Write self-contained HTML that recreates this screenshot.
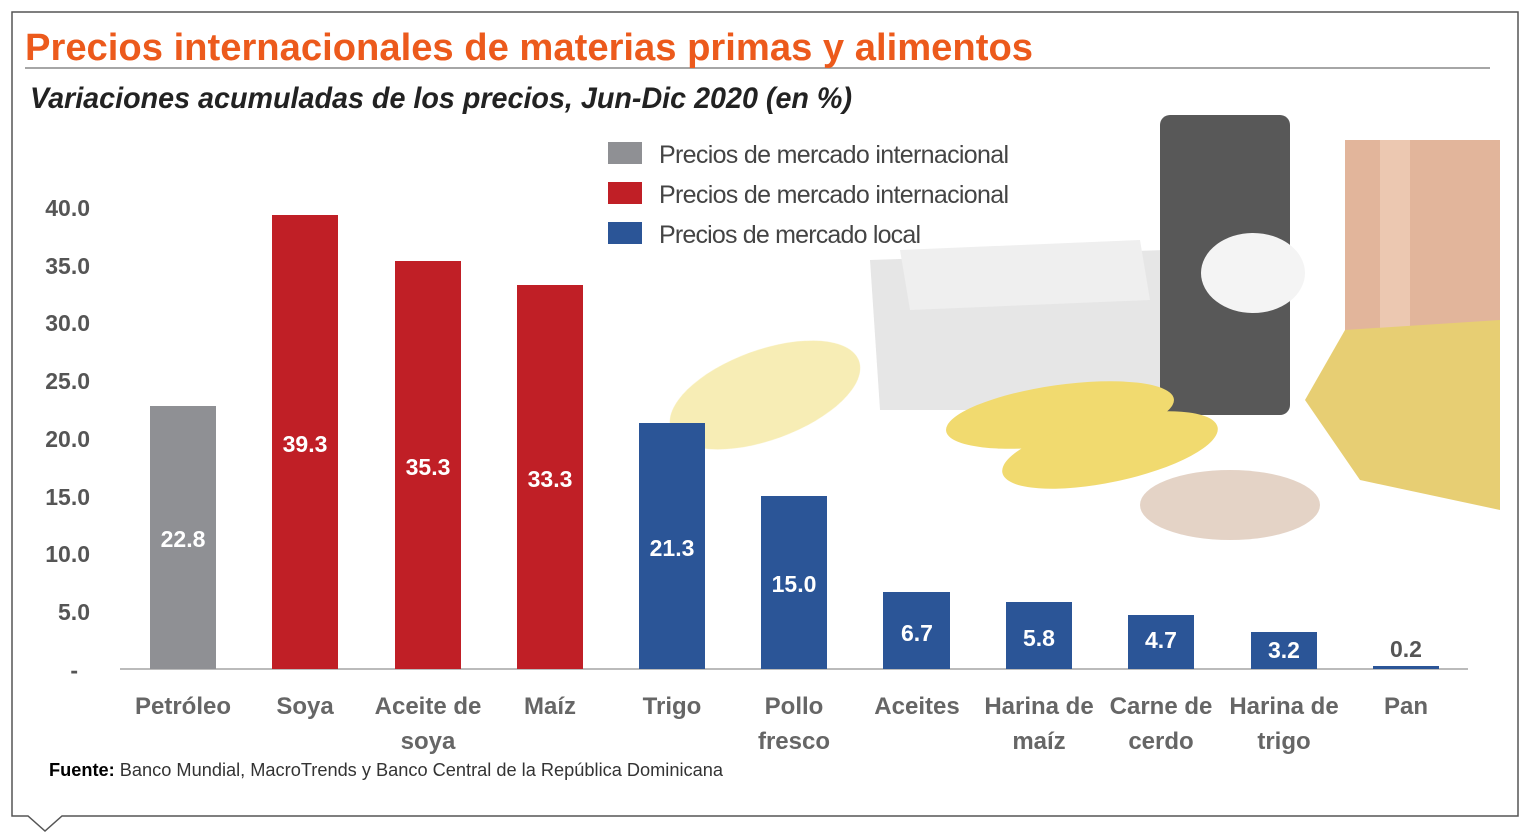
<!DOCTYPE html>
<html><head><meta charset="utf-8"><style>
body{margin:0;background:#fff;width:1536px;height:834px;overflow:hidden;position:relative;font-family:"Liberation Sans",sans-serif}
.t{position:absolute;white-space:nowrap}
</style></head><body>
<svg width="1536" height="834" style="position:absolute;left:0;top:0">
<path d="M12,12 H1518 V816 H62 L45,831 L28,816 H12 Z" fill="none" stroke="#555" stroke-width="1.5"/>
<line x1="25" y1="68" x2="1490" y2="68" stroke="#888" stroke-width="1.5"/>
<!-- illustration -->
<g opacity="0.85">
<ellipse cx="765" cy="395" rx="100" ry="45" fill="#f6eaa8" transform="rotate(-20 765 395)"/>
<polygon points="870,260 1165,250 1170,410 880,410" fill="#e2e2e2"/>
<polygon points="900,250 1140,240 1150,300 910,310" fill="#ececec"/>
<rect x="1345" y="140" width="155" height="200" fill="#dda88a"/>
<rect x="1380" y="140" width="30" height="200" fill="#e9bfa3"/>
<rect x="1160" y="115" width="130" height="300" rx="10" fill="#3a3a3a"/>
<ellipse cx="1253" cy="273" rx="52" ry="40" fill="#f2f2f2"/>
<polygon points="1305,400 1345,330 1500,320 1500,510 1360,480" fill="#e3c65a"/>
<ellipse cx="1060" cy="415" rx="115" ry="30" fill="#efd455" transform="rotate(-8 1060 415)"/>
<ellipse cx="1110" cy="450" rx="110" ry="32" fill="#efd455" transform="rotate(-12 1110 450)"/>
<ellipse cx="1230" cy="505" rx="90" ry="35" fill="#c9a890" opacity="0.6"/>
</g>
<!-- axis -->
<line x1="120" y1="669" x2="1468" y2="669" stroke="#bbb" stroke-width="2"/>
<g>
<rect x="150" y="406" width="66" height="263" fill="#8f9094"/>
<rect x="272" y="215" width="66" height="454" fill="#c01f26"/>
<rect x="395" y="261" width="66" height="408" fill="#c01f26"/>
<rect x="517" y="285" width="66" height="384" fill="#c01f26"/>
<rect x="639" y="423" width="66" height="246" fill="#2b5597"/>
<rect x="761" y="496" width="66" height="173" fill="#2b5597"/>
<rect x="883" y="592" width="67" height="77" fill="#2b5597"/>
<rect x="1006" y="602" width="66" height="67" fill="#2b5597"/>
<rect x="1128" y="615" width="66" height="54" fill="#2b5597"/>
<rect x="1251" y="632" width="66" height="37" fill="#2b5597"/>
<rect x="1373" y="666" width="66" height="3" fill="#2b5597"/>
</g>
<g font-family="Liberation Sans,sans-serif" font-weight="bold" font-size="23" fill="#fff" text-anchor="middle">
<text x="183" y="547">22.8</text><text x="305" y="452">39.3</text><text x="428" y="475">35.3</text><text x="550" y="487">33.3</text>
<text x="672" y="556">21.3</text><text x="794" y="592">15.0</text><text x="917" y="641">6.7</text><text x="1039" y="646">5.8</text>
<text x="1161" y="648">4.7</text><text x="1284" y="658">3.2</text><text x="1406" y="657" fill="#555">0.2</text>
</g>
<g font-family="Liberation Sans,sans-serif" font-weight="bold" font-size="23" fill="#555" text-anchor="end">
<text x="90" y="216">40.0</text><text x="90" y="274">35.0</text><text x="90" y="331">30.0</text><text x="90" y="389">25.0</text>
<text x="90" y="447">20.0</text><text x="90" y="505">15.0</text><text x="90" y="562">10.0</text><text x="90" y="620">5.0</text><text x="78" y="678">-</text>
</g>
<g font-family="Liberation Sans,sans-serif" font-weight="bold" font-size="24" fill="#666" text-anchor="middle">
<text x="183" y="714">Petróleo</text><text x="305" y="714">Soya</text><text x="428" y="714">Aceite de</text><text x="428" y="749">soya</text>
<text x="550" y="714">Maíz</text><text x="672" y="714">Trigo</text><text x="794" y="714">Pollo</text><text x="794" y="749">fresco</text>
<text x="917" y="714">Aceites</text><text x="1039" y="714">Harina de</text><text x="1039" y="749">maíz</text>
<text x="1161" y="714">Carne de</text><text x="1161" y="749">cerdo</text><text x="1284" y="714">Harina de</text><text x="1284" y="749">trigo</text><text x="1406" y="714">Pan</text>
</g>
<rect x="608" y="142" width="34" height="22" fill="#8f9094"/>
<rect x="608" y="182" width="34" height="22" fill="#c01f26"/>
<rect x="608" y="222" width="34" height="22" fill="#2b5597"/>
<g font-family="Liberation Sans,sans-serif" font-size="25" fill="#444">
<text x="659" y="163" textLength="350">Precios de mercado internacional</text>
<text x="659" y="203" textLength="350">Precios de mercado internacional</text>
<text x="659" y="243" textLength="262">Precios de mercado local</text>
</g>
<text x="25" y="60" font-family="Liberation Sans,sans-serif" font-weight="bold" font-size="38" fill="#ec5a1c" textLength="1008" lengthAdjust="spacingAndGlyphs">Precios internacionales de materias primas y alimentos</text>
<text x="30" y="108" font-family="Liberation Sans,sans-serif" font-weight="bold" font-style="italic" font-size="30" fill="#222" textLength="822" lengthAdjust="spacingAndGlyphs">Variaciones acumuladas de los precios, Jun-Dic 2020 (en %)</text>
<text x="49" y="776" font-family="Liberation Sans,sans-serif" font-size="18" fill="#333" textLength="674" lengthAdjust="spacingAndGlyphs"><tspan font-weight="bold" fill="#000">Fuente:</tspan> Banco Mundial, MacroTrends y Banco Central de la República Dominicana</text>
</svg>
</body></html>
